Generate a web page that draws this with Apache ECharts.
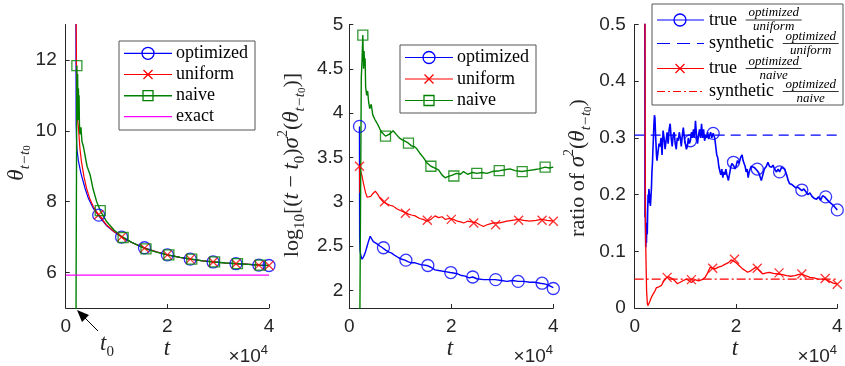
<!DOCTYPE html>
<html><head><meta charset="utf-8">
<script src="https://cdn.jsdelivr.net/npm/echarts@6/dist/echarts.min.js"></script>
<style>html,body{margin:0;padding:0;background:#fff}#c{width:845px;height:366px}</style>
</head><body><div id="c"></div>
<script>
// ---------------- DATA (t in units of 10^4) ----------------
const xTicks = [0, 2, 4];
const p1YTicks = [6, 8, 10, 12];
const p2YTicks = [2, 2.5, 3, 3.5, 4, 4.5, 5];
const p3YTicks = [0, 0.1, 0.2, 0.3, 0.4, 0.5];

// Panel 1: theta_{t-t0}
const p1Optimized = [[0.2,14],[0.205,10.2],[0.212,9.8],[0.22,9.5],[0.25,9.15],[0.3,8.8],[0.38,8.38],[0.45,8.08],[0.54,7.82],[0.65,7.6],[0.8,7.33],[0.95,7.15],[1.1,7.0],[1.3,6.85],[1.55,6.7],[1.8,6.58],[2.0,6.5],[2.25,6.43],[2.45,6.38],[2.7,6.33],[2.9,6.3],[3.15,6.27],[3.35,6.25],[3.6,6.23],[3.8,6.21],[4.0,6.2]];
const p1OptimizedMarks = [[0.65,7.62],[1.1,7.0],[1.55,6.7],[2.0,6.5],[2.45,6.38],[2.9,6.3],[3.35,6.25],[3.8,6.21],[4.0,6.2]];
const p1Uniform = [[0.2,14],[0.22,10.5],[0.25,10.1],[0.28,9.5],[0.31,9.13],[0.36,8.7],[0.41,8.38],[0.47,8.1],[0.54,7.87],[0.65,7.62],[0.8,7.35],[0.95,7.16],[1.1,7.0],[1.3,6.85],[1.55,6.69],[1.8,6.58],[2.0,6.5],[2.25,6.43],[2.45,6.38],[2.7,6.33],[2.9,6.3],[3.15,6.27],[3.35,6.25],[3.6,6.23],[3.8,6.21],[4.0,6.2]];
const p1UniformMarks = [[0.65,7.63],[1.1,7.0],[1.55,6.69],[2.0,6.5],[2.45,6.38],[2.9,6.3],[3.35,6.25],[3.8,6.21],[4.0,6.2]];
const p1Naive = [[0.2,2],[0.205,5.93],[0.22,11.84],[0.228,10.4],[0.235,11.6],[0.242,10.3],[0.25,11.2],[0.256,10.6],[0.263,11.0],[0.27,10.2],[0.28,9.9],[0.3,10.1],[0.32,9.7],[0.35,9.55],[0.38,9.6],[0.42,9.0],[0.48,8.76],[0.54,8.35],[0.61,8.0],[0.68,7.75],[0.8,7.45],[0.95,7.2],[1.1,7.02],[1.3,6.85],[1.57,6.67],[1.8,6.57],[2.0,6.5],[2.25,6.43],[2.48,6.38],[2.7,6.33],[2.93,6.3],[3.15,6.27],[3.38,6.25],[3.6,6.23],[3.83,6.21],[4.0,6.2]];
const p1NaiveMarks = [[0.22,11.84],[0.68,7.75],[1.13,6.99],[1.58,6.67],[2.03,6.5],[2.48,6.38],[2.93,6.3],[3.38,6.25],[3.83,6.21]];
const p1Exact = [[0,5.93],[4,5.93]];

// Panel 2: log10[(t-t0) sigma^2]
const p2Optimized = [[0.2,3.85],[0.203,2.6],[0.21,2.45],[0.23,2.38],[0.25,2.35],[0.28,2.38],[0.31,2.42],[0.35,2.5],[0.38,2.56],[0.41,2.61],[0.44,2.59],[0.47,2.55],[0.5,2.56],[0.53,2.53],[0.56,2.52],[0.6,2.5],[0.65,2.48],[0.72,2.45],[0.78,2.43],[0.83,2.42],[0.9,2.39],[0.96,2.37],[1.03,2.35],[1.09,2.34],[1.16,2.32],[1.22,2.31],[1.29,2.31],[1.4,2.29],[1.52,2.28],[1.6,2.26],[1.68,2.23],[1.78,2.22],[1.88,2.21],[1.98,2.2],[2.1,2.19],[2.18,2.17],[2.27,2.16],[2.35,2.14],[2.42,2.15],[2.5,2.13],[2.63,2.12],[2.75,2.12],[2.86,2.12],[2.98,2.11],[3.09,2.1],[3.2,2.11],[3.31,2.1],[3.42,2.1],[3.54,2.09],[3.64,2.09],[3.74,2.08],[3.85,2.07],[3.93,2.05],[4.0,2.03]];
const p2OptimizedMarks = [[0.2,3.85],[0.67,2.48],[1.11,2.34],[1.54,2.28],[1.99,2.2],[2.42,2.15],[2.87,2.12],[3.31,2.1],[3.78,2.08],[4.0,2.02]];
const p2Uniform = [[0.2,3.4],[0.205,3.1],[0.22,3.35],[0.25,3.29],[0.28,3.2],[0.32,3.1],[0.35,3.05],[0.38,3.04],[0.42,3.06],[0.46,3.09],[0.51,3.12],[0.56,3.08],[0.6,3.04],[0.66,3.0],[0.72,2.98],[0.8,2.96],[0.86,2.95],[0.93,2.92],[1.0,2.9],[1.09,2.88],[1.16,2.86],[1.22,2.85],[1.29,2.84],[1.38,2.81],[1.45,2.8],[1.52,2.78],[1.6,2.8],[1.68,2.84],[1.75,2.82],[1.82,2.83],[1.88,2.8],[1.96,2.81],[2.04,2.8],[2.12,2.78],[2.2,2.77],[2.24,2.76],[2.32,2.78],[2.42,2.77],[2.5,2.76],[2.56,2.74],[2.63,2.72],[2.7,2.74],[2.76,2.75],[2.83,2.76],[2.95,2.76],[3.09,2.78],[3.2,2.79],[3.31,2.8],[3.42,2.79],[3.54,2.78],[3.66,2.79],[3.77,2.8],[3.88,2.79],[4.0,2.78]];
const p2UniformMarks = [[0.2,3.4],[0.69,3.0],[1.1,2.87],[1.53,2.79],[2.0,2.8],[2.44,2.76],[2.87,2.74],[3.32,2.79],[3.78,2.79],[4.0,2.78]];
const p2Naive = [[0.2,1.0],[0.235,4.4],[0.25,4.6],[0.265,4.88],[0.28,4.5],[0.29,4.7],[0.3,4.53],[0.31,4.62],[0.32,4.3],[0.34,4.2],[0.36,4.25],[0.38,4.12],[0.4,4.05],[0.43,4.1],[0.46,3.98],[0.5,3.93],[0.55,3.88],[0.6,3.82],[0.64,3.78],[0.71,3.74],[0.78,3.76],[0.86,3.8],[0.92,3.76],[0.98,3.72],[1.03,3.7],[1.1,3.68],[1.16,3.66],[1.22,3.63],[1.28,3.62],[1.32,3.6],[1.38,3.55],[1.45,3.5],[1.52,3.44],[1.6,3.4],[1.68,3.38],[1.75,3.36],[1.82,3.3],[1.88,3.27],[1.92,3.28],[2.02,3.3],[2.1,3.32],[2.18,3.31],[2.24,3.34],[2.32,3.31],[2.42,3.33],[2.5,3.32],[2.6,3.33],[2.7,3.32],[2.8,3.34],[2.95,3.35],[3.05,3.36],[3.15,3.37],[3.25,3.35],[3.38,3.34],[3.5,3.35],[3.62,3.36],[3.72,3.37],[3.84,3.39],[3.92,3.38],[4.0,3.39]];
const p2NaiveMarks = [[0.265,4.88],[0.71,3.74],[1.16,3.66],[1.6,3.4],[2.05,3.29],[2.5,3.32],[2.94,3.35],[3.39,3.34],[3.84,3.39]];

// Panel 3: ratio of sigma^2
const p3TrueOptUnif = [[0.2,0.7],[0.203,0.16],[0.208,0.21],[0.213,0.14],[0.218,0.107],[0.225,0.13],[0.232,0.115],[0.24,0.15],[0.248,0.13],[0.256,0.17],[0.264,0.2],[0.272,0.185],[0.28,0.21],[0.29,0.2],[0.3,0.19],[0.31,0.18],[0.32,0.178],[0.33,0.21],[0.34,0.24],[0.35,0.254],[0.36,0.28],[0.37,0.3],[0.38,0.325],[0.39,0.34],[0.4,0.335],[0.41,0.31],[0.42,0.29],[0.43,0.27],[0.44,0.26],[0.46,0.275],[0.48,0.29],[0.5,0.285],[0.52,0.3],[0.54,0.27],[0.56,0.313],[0.58,0.3],[0.6,0.28],[0.62,0.295],[0.64,0.31],[0.66,0.29],[0.68,0.315],[0.7,0.325],[0.72,0.3],[0.74,0.285],[0.76,0.305],[0.78,0.31],[0.8,0.29],[0.82,0.28],[0.84,0.3],[0.86,0.295],[0.88,0.31],[0.9,0.3],[0.92,0.285],[0.94,0.305],[0.96,0.318],[0.98,0.3],[1.0,0.29],[1.02,0.28],[1.04,0.285],[1.06,0.3],[1.08,0.29],[1.1,0.295],[1.12,0.31],[1.14,0.3],[1.16,0.315],[1.18,0.3],[1.2,0.33],[1.22,0.305],[1.24,0.29],[1.26,0.305],[1.28,0.315],[1.3,0.3],[1.32,0.325],[1.34,0.3],[1.36,0.315],[1.38,0.295],[1.4,0.305],[1.42,0.3],[1.44,0.31],[1.46,0.298],[1.48,0.305],[1.5,0.31],[1.52,0.3],[1.55,0.308],[1.58,0.3],[1.6,0.285],[1.62,0.27],[1.64,0.265],[1.66,0.25],[1.68,0.242],[1.7,0.235],[1.72,0.245],[1.74,0.23],[1.76,0.24],[1.78,0.235],[1.8,0.245],[1.82,0.235],[1.85,0.225],[1.88,0.24],[1.9,0.25],[1.92,0.255],[1.94,0.257],[1.96,0.25],[1.98,0.245],[2.0,0.25],[2.03,0.26],[2.06,0.255],[2.09,0.265],[2.12,0.27],[2.14,0.26],[2.16,0.255],[2.18,0.25],[2.2,0.24],[2.22,0.245],[2.24,0.23],[2.26,0.24],[2.28,0.245],[2.3,0.25],[2.33,0.253],[2.36,0.248],[2.39,0.245],[2.42,0.242],[2.45,0.238],[2.48,0.23],[2.5,0.225],[2.53,0.235],[2.56,0.245],[2.6,0.25],[2.63,0.257],[2.66,0.25],[2.7,0.248],[2.73,0.252],[2.76,0.245],[2.8,0.24],[2.83,0.245],[2.86,0.24],[2.9,0.248],[2.93,0.25],[2.96,0.245],[3.0,0.235],[3.03,0.225],[3.06,0.219],[3.1,0.218],[3.14,0.215],[3.18,0.212],[3.22,0.213],[3.26,0.21],[3.3,0.207],[3.34,0.21],[3.38,0.205],[3.42,0.2],[3.46,0.203],[3.5,0.197],[3.55,0.193],[3.59,0.192],[3.63,0.196],[3.67,0.19],[3.71,0.198],[3.75,0.196],[3.79,0.192],[3.83,0.188],[3.87,0.185],[3.91,0.182],[3.95,0.178],[4.0,0.173]];
const p3TrueOptUnifMarks = [[1.1,0.295],[1.55,0.308],[1.95,0.257],[2.42,0.245],[2.86,0.24],[3.3,0.208],[3.77,0.196],[4.0,0.173]];
const p3SynthOptUnif = [[0,0.305],[4,0.305]];
const p3TrueOptNaive = [[0.2,0.7],[0.21,0.17],[0.22,0.1],[0.235,0.03],[0.25,0.008],[0.26,0.004],[0.28,0.008],[0.3,0.012],[0.33,0.019],[0.36,0.024],[0.4,0.03],[0.43,0.036],[0.47,0.037],[0.5,0.04],[0.53,0.04],[0.57,0.047],[0.6,0.05],[0.63,0.054],[0.67,0.055],[0.7,0.057],[0.74,0.052],[0.79,0.048],[0.84,0.043],[0.89,0.045],[0.95,0.048],[1.02,0.051],[1.07,0.048],[1.12,0.045],[1.19,0.05],[1.26,0.048],[1.33,0.05],[1.39,0.054],[1.44,0.062],[1.49,0.072],[1.54,0.07],[1.59,0.069],[1.65,0.072],[1.72,0.074],[1.78,0.077],[1.85,0.08],[1.91,0.085],[1.94,0.083],[2.0,0.08],[2.06,0.075],[2.13,0.069],[2.18,0.066],[2.23,0.063],[2.3,0.066],[2.36,0.07],[2.4,0.072],[2.46,0.066],[2.53,0.06],[2.6,0.062],[2.66,0.063],[2.74,0.061],[2.83,0.06],[2.92,0.059],[3.0,0.057],[3.08,0.056],[3.16,0.057],[3.23,0.059],[3.29,0.06],[3.37,0.057],[3.46,0.054],[3.54,0.053],[3.62,0.051],[3.7,0.051],[3.78,0.05],[3.85,0.047],[3.92,0.044],[4.0,0.042]];
const p3TrueOptNaiveMarks = [[0.64,0.054],[1.12,0.05],[1.54,0.07],[1.97,0.086],[2.42,0.07],[2.85,0.062],[3.3,0.06],[3.76,0.052],[4.0,0.042]];
const p3SynthOptNaive = [[0,0.051],[4,0.051]];

const legend1Labels = ['optimized', 'uniform', 'naive', 'exact'];
const legend2Labels = ['optimized', 'uniform', 'naive'];
const legend3Labels = ['true', 'synthetic', 'true', 'synthetic'];
const legend3Num = ['optimized', 'optimized', 'optimized', 'optimized'];
const legend3Den = ['uniform', 'uniform', 'naive', 'naive'];

// ---------------- CHART ----------------
const AX = '#262626';
const SERIF = "'Liberation Serif', 'Times New Roman', serif";
const SANS = "'Liberation Sans', Arial, sans-serif";
const BLUE = '#0000ff', RED = '#ff0000', GREEN = '#008000', MAG = '#ff00ff';

const gridDefs = [[65.7, 203.3], [349.3, 204], [634.7, 202.6]];
const grids = gridDefs.map(g => ({left: g[0], top: 24.5, width: g[1], height: 283.5, outerBoundsMode: 'none', containLabel: false}));

function xAx(i) {
  return {type: 'value', gridIndex: i, min: 0, max: 4, interval: 2,
    axisLine: {show: true, onZero: false, lineStyle: {color: AX, width: 1}},
    axisTick: {show: true, inside: true, length: 4, customValues: xTicks, lineStyle: {color: AX}},
    axisLabel: {customValues: xTicks, color: AX, fontSize: 19, fontFamily: SANS, margin: 9},
    splitLine: {show: false}};
}
function yAx(i, min, max, ticks, margin) {
  return {type: 'value', gridIndex: i, min: min, max: max,
    axisLine: {show: true, onZero: false, lineStyle: {color: AX, width: 1}},
    axisTick: {show: true, inside: true, length: 4, customValues: ticks, lineStyle: {color: AX}},
    axisLabel: {customValues: ticks, color: AX, fontSize: 19, fontFamily: SANS, margin: margin,
      formatter: v => String(+(+v).toFixed(2))},
    splitLine: {show: false}};
}
function line(i, data, color, width, type, z) {
  return {type: 'line', xAxisIndex: i, yAxisIndex: i, data: data, showSymbol: false, symbol: 'none',
    clip: true, lineStyle: {color: color, width: width, type: type || 'solid'}, itemStyle: {color: color},
    animation: false, silent: true, z: z || 2};
}
const CROSS = 'path://M0,0L10,10M10,0L0,10';
function marks(i, data, kind, color) {
  const sym = kind === 'circle' ? 'circle' : kind === 'square' ? 'rect' : CROSS;
  const size = kind === 'circle' ? 12 : kind === 'square' ? 10 : 9;
  return {type: 'scatter', xAxisIndex: i, yAxisIndex: i, data: data, symbol: sym, symbolSize: size, clip: true,
    itemStyle: {color: 'rgba(0,0,0,0)', borderColor: color, borderWidth: 1.3},
    animation: false, silent: true, z: 3};
}

const series = [
  line(0, p1Optimized, BLUE, 1.2), marks(0, p1OptimizedMarks, 'circle', BLUE),
  line(0, p1Uniform, RED, 1.2), marks(0, p1UniformMarks, 'cross', RED),
  line(0, p1Naive, GREEN, 1.4), marks(0, p1NaiveMarks, 'square', GREEN),
  line(0, p1Exact, MAG, 1.2),
  line(1, p2Optimized, BLUE, 1.4), marks(1, p2OptimizedMarks, 'circle', BLUE),
  line(1, p2Uniform, RED, 1.2), marks(1, p2UniformMarks, 'cross', RED),
  line(1, p2Naive, GREEN, 1.4), marks(1, p2NaiveMarks, 'square', GREEN),
  line(2, p3TrueOptUnif, BLUE, 1.6), marks(2, p3TrueOptUnifMarks, 'circle', BLUE),
  line(2, p3SynthOptUnif, BLUE, 1.2, [10, 6]),
  line(2, p3TrueOptNaive, RED, 1.3), marks(2, p3TrueOptNaiveMarks, 'cross', RED),
  line(2, p3SynthOptNaive, RED, 1.2, [9, 3, 2, 3])
];

// ---------- graphic helpers (legends, labels, annotation) ----------
const G = [];
const richMath = {
  lg: {fontFamily: SERIF, fontStyle: 'normal', fontSize: 18, lineHeight: 20, verticalAlign: 'middle', fill: '#000'},
  fr: {fontFamily: SERIF, fontStyle: 'italic', fontSize: 13, lineHeight: 13, verticalAlign: 'middle', fill: '#000'},
  it: {fontFamily: SERIF, fontStyle: 'italic', fontSize: 23, lineHeight: 32, verticalAlign: 'middle', fill: AX},
  rm: {fontFamily: SERIF, fontStyle: 'normal', fontSize: 22, lineHeight: 32, verticalAlign: 'middle', fill: AX},
  sub: {fontFamily: SERIF, fontStyle: 'italic', fontSize: 15, lineHeight: 15, verticalAlign: 'bottom', fill: AX},
  subr: {fontFamily: SERIF, fontStyle: 'normal', fontSize: 15, lineHeight: 15, verticalAlign: 'bottom', fill: AX},
  ss: {fontFamily: SERIF, fontStyle: 'normal', fontSize: 11, lineHeight: 11, verticalAlign: 'bottom', fill: AX},
  sup: {fontFamily: SERIF, fontStyle: 'normal', fontSize: 14, lineHeight: 14, verticalAlign: 'top', fill: AX},
  sx: {fontFamily: SANS, fontSize: 19, lineHeight: 26, verticalAlign: 'middle', fill: AX},
  sxs: {fontFamily: SANS, fontSize: 13, lineHeight: 13, verticalAlign: 'top', fill: AX}
};
function gRect(x, y, w, h) { G.push({type: 'rect', shape: {x: x, y: y, width: w, height: h}, style: {fill: '#fff', stroke: '#555', lineWidth: 1}, z: 100}); }
function gLine(x1, y1, x2, y2, color, dash, w) { G.push({type: 'line', shape: {x1: x1, y1: y1, x2: x2, y2: y2}, style: {stroke: color, lineWidth: w || 1.2, lineDash: dash || null}, z: 101}); }
function gMarker(kind, cx, cy, color) {
  if (kind === 'circle') G.push({type: 'circle', shape: {cx: cx, cy: cy, r: 6}, style: {fill: 'none', stroke: color, lineWidth: 1.3}, z: 102});
  else if (kind === 'square') G.push({type: 'rect', shape: {x: cx - 5, y: cy - 5, width: 10, height: 10}, style: {fill: 'none', stroke: color, lineWidth: 1.3}, z: 102});
  else if (kind === 'cross') { gLine(cx - 4.5, cy - 4.5, cx + 4.5, cy + 4.5, color, null, 1.3); gLine(cx - 4.5, cy + 4.5, cx + 4.5, cy - 4.5, color, null, 1.3); }
}
function gText(x, y, text, opt) {
  opt = opt || {};
  G.push({type: 'text', x: x, y: y, rotation: opt.rot || 0, z: 103,
    style: {text: text, fill: AX, fontFamily: SERIF, fontSize: 18, align: opt.align || 'left', verticalAlign: opt.va || 'middle', rich: richMath}});
}

// Legend 1
gRect(119, 41, 136, 89);
const l1Colors = [BLUE, RED, GREEN, MAG], l1Kinds = ['circle', 'cross', 'square', null], l1Rows = [53.3, 74.5, 95.7, 116.7];
legend1Labels.forEach((lab, k) => {
  gLine(124, l1Rows[k], 172, l1Rows[k], l1Colors[k], null, k === 2 ? 1.4 : 1.2);
  if (l1Kinds[k]) gMarker(l1Kinds[k], 148, l1Rows[k], l1Colors[k]);
  gText(176, l1Rows[k], '{lg|' + lab + '}');
});
// Legend 2
gRect(400, 45, 136, 68);
const l2Rows = [57.5, 79, 100.5];
legend2Labels.forEach((lab, k) => {
  gLine(405, l2Rows[k], 453, l2Rows[k], l1Colors[k], null, 1.2);
  gMarker(l1Kinds[k], 429, l2Rows[k], l1Colors[k]);
  gText(457, l2Rows[k], '{lg|' + lab + '}');
});
// Legend 3
gRect(652, 4, 191, 101);
const l3Rows = [20, 43.5, 68.5, 91.5], l3Colors = [BLUE, BLUE, RED, RED];
const l3Dash = [null, [13, 7], null, [8, 3, 2, 3]], l3Kinds = ['circle', null, 'cross', null];
const l3FracX = [773.7, 810.7, 773.7, 810.7];
legend3Labels.forEach((lab, k) => {
  gLine(657, l3Rows[k], 704, l3Rows[k], l3Colors[k], l3Dash[k], 1.2);
  if (l3Kinds[k]) gMarker(l3Kinds[k], 680, l3Rows[k], l3Colors[k]);
  gText(709, l3Rows[k], '{lg|' + lab + '}');
  const fx = l3FracX[k];
  gText(fx, l3Rows[k] - 0.5, '{fr|' + legend3Num[k] + '}', {align: 'center', va: 'bottom'});
  gLine(fx - 28, l3Rows[k], fx + 28, l3Rows[k], '#000', null, 0.8);
  gText(fx, l3Rows[k] + 0.5, '{fr|' + legend3Den[k] + '}', {align: 'center', va: 'top'});
});

// Axis titles
gText(17, 163, '{it|θ}{sub|t−t}{ss|0}', {rot: Math.PI / 2, align: 'center'});
gText(292, 165, '{rm|log}{subr|10}{rm|[(}{it|t}{rm| − }{it|t}{subr|0}{rm|)}{it|σ}{sup|2}{rm|(}{it|θ}{sub|t−t}{ss|0}{rm|)]}', {rot: Math.PI / 2, align: 'center'});
gText(578, 168, '{rm|ratio of }{it|σ}{sup|2}{rm|(}{it|θ}{sub|t−t}{ss|0}{rm|)}', {rot: Math.PI / 2, align: 'center'});

[167, 450, 735].forEach(x => gText(x, 349, '{it|t}', {align: 'center'}));
[268, 553, 837].forEach(x => gText(x, 357, '{sx|×10}{sxs|4}', {align: 'right'}));

// t0 annotation with arrow
gLine(98, 331, 83, 316, '#000', null, 1);
G.push({type: 'polygon', shape: {points: [[77, 310], [82, 322], [89, 315]]}, style: {fill: '#000'}, z: 104});
gText(107, 344, '{it|t}{subr|0}', {align: 'center'});

const chart = echarts.init(document.getElementById('c'), null, {renderer: 'canvas'});
chart.setOption({
  animation: false,
  backgroundColor: '#fff',
  grid: grids,
  xAxis: [xAx(0), xAx(1), xAx(2)],
  yAxis: [yAx(0, 5, 13, p1YTicks, 9), yAx(1, 1.8, 5, p2YTicks, 6), yAx(2, 0, 0.5, p3YTicks, 9)],
  series: series,
  graphic: {elements: G}
});
</script></body></html>
